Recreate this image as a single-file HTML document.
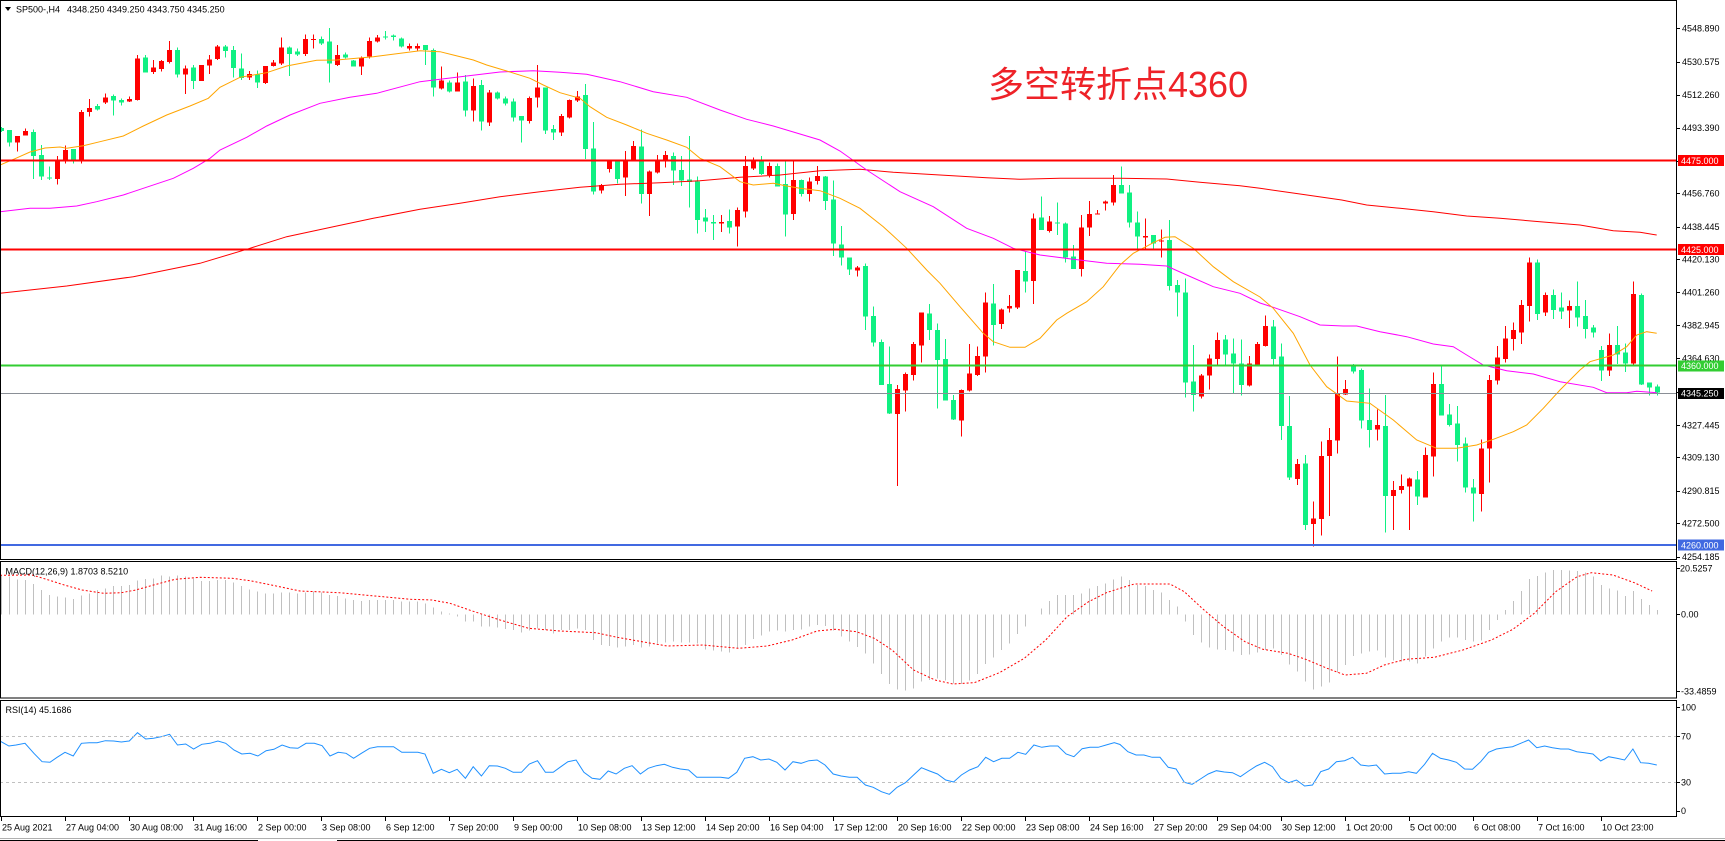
<!DOCTYPE html>
<html><head><meta charset="utf-8">
<style>
html,body{margin:0;padding:0;background:#fff;}
svg{display:block;}
text{font-family:"Liberation Sans",Arial,sans-serif;font-size:9px;fill:#000;}
</style></head><body>
<svg id="c" width="1725" height="841" viewBox="0 0 1725 841" xmlns="http://www.w3.org/2000/svg">
<rect width="1725" height="841" fill="#fff"/>
<g id="cand" shape-rendering="crispEdges"></g>
<g id="ma" fill="none" stroke-width="1"></g>
<g id="hist" shape-rendering="crispEdges"></g>
<g id="ind" fill="none"></g>
<!-- horizontal lines -->
<g shape-rendering="crispEdges">
<rect x="0" y="159.5" width="1676" height="2" fill="#ff0000"/>
<rect x="0" y="248.5" width="1676" height="2" fill="#ff0000"/>
<rect x="0" y="364.5" width="1676" height="2" fill="#32cd32"/>
<rect x="0" y="393" width="1676" height="1" fill="#8a8f96"/>
<rect x="0" y="544" width="1676" height="2" fill="#4169e1"/>
<line x1="0" y1="736.5" x2="1676" y2="736.5" stroke="#c0c0c0" stroke-dasharray="3,3"/>
<line x1="0" y1="782.5" x2="1676" y2="782.5" stroke="#c0c0c0" stroke-dasharray="3,3"/>
</g>
<!-- frames -->
<g fill="none" stroke="#000" stroke-width="1" shape-rendering="crispEdges">
<rect x="0.5" y="0.5" width="1676" height="559"/>
<rect x="0.5" y="561.5" width="1676" height="136.5"/>
<rect x="0.5" y="700.5" width="1676" height="116"/>
</g>
<g id="ticks" stroke="#000" shape-rendering="crispEdges"></g>
<line x1="0" y1="838.5" x2="1725" y2="838.5" stroke="#b0b0b0"/>
<line x1="0" y1="840.5" x2="258" y2="840.5" stroke="#000"/>
<line x1="337" y1="840.5" x2="1725" y2="840.5" stroke="#000"/>

<!-- header -->
<polygon points="5,7 11,7 8,11" fill="#000"/>
<text x="16" y="12.6">SP500-,H4</text>
<text x="67" y="12.6">4348.250 4349.250 4343.750 4345.250</text>
<text x="988" y="97" style="font-size:36px;fill:#ee2228;font-family:'Liberation Sans','Noto Sans CJK SC',sans-serif;">多空转折点4360</text>

<!-- right axis main -->
<text x="1682" y="31.6">4548.890</text>
<text x="1682" y="65">4530.575</text>
<text x="1682" y="98">4512.260</text>
<text x="1682" y="131">4493.390</text>
<text x="1682" y="196.6">4456.760</text>
<text x="1682" y="230">4438.445</text>
<text x="1682" y="262.3">4420.130</text>
<text x="1682" y="295.6">4401.260</text>
<text x="1682" y="328.3">4382.945</text>
<text x="1682" y="361.6">4364.630</text>
<text x="1682" y="428.3">4327.445</text>
<text x="1682" y="460.6">4309.130</text>
<text x="1682" y="494">4290.815</text>
<text x="1682" y="526.6">4272.500</text>
<text x="1682" y="560">4254.185</text>

<rect x="1678" y="155" width="46" height="11" fill="#ff0000"/>
<text x="1681" y="163.8" style="fill:#fff">4475.000</text>
<rect x="1678" y="244" width="46" height="11" fill="#ff0000"/>
<text x="1681" y="252.8" style="fill:#fff">4425.000</text>
<rect x="1678" y="360.5" width="46" height="11" fill="#32cd32"/>
<text x="1681" y="369.2" style="fill:#fff">4360.000</text>
<rect x="1678" y="388" width="46" height="11" fill="#000"/>
<text x="1681" y="396.7" style="fill:#fff">4345.250</text>
<rect x="1678" y="539.5" width="46" height="11" fill="#4169e1"/>
<text x="1681" y="548.3" style="fill:#fff">4260.000</text>

<!-- MACD -->
<text x="5.5" y="574.6">MACD(12,26,9) 1.8703 8.5210</text>
<text x="1680" y="571.6">20.5257</text>
<text x="1681" y="617.6">0.00</text>
<text x="1681" y="694.3">-33.4859</text>
<!-- RSI -->
<text x="5.5" y="713">RSI(14) 45.1686</text>
<text x="1681" y="710.3">100</text>
<text x="1681" y="739.3">70</text>
<text x="1681" y="785.6">30</text>
<text x="1681" y="814">0</text>

<!-- time axis -->
<text x="2" y="830.5">25 Aug 2021</text>
<text x="66" y="830.5">27 Aug 04:00</text>
<text x="130" y="830.5">30 Aug 08:00</text>
<text x="194" y="830.5">31 Aug 16:00</text>
<text x="258" y="830.5">2 Sep 00:00</text>
<text x="322" y="830.5">3 Sep 08:00</text>
<text x="386" y="830.5">6 Sep 12:00</text>
<text x="450" y="830.5">7 Sep 20:00</text>
<text x="514" y="830.5">9 Sep 00:00</text>
<text x="578" y="830.5">10 Sep 08:00</text>
<text x="642" y="830.5">13 Sep 12:00</text>
<text x="706" y="830.5">14 Sep 20:00</text>
<text x="770" y="830.5">16 Sep 04:00</text>
<text x="834" y="830.5">17 Sep 12:00</text>
<text x="898" y="830.5">20 Sep 16:00</text>
<text x="962" y="830.5">22 Sep 00:00</text>
<text x="1026" y="830.5">23 Sep 08:00</text>
<text x="1090" y="830.5">24 Sep 16:00</text>
<text x="1154" y="830.5">27 Sep 20:00</text>
<text x="1218" y="830.5">29 Sep 04:00</text>
<text x="1282" y="830.5">30 Sep 12:00</text>
<text x="1346" y="830.5">1 Oct 20:00</text>
<text x="1410" y="830.5">5 Oct 00:00</text>
<text x="1474" y="830.5">6 Oct 08:00</text>
<text x="1538" y="830.5">7 Oct 16:00</text>
<text x="1602" y="830.5">10 Oct 23:00</text>
</svg>
<script>
(function(){
var NS="http://www.w3.org/2000/svg";
function el(parent,tag,attrs){var e=document.createElementNS(NS,tag);for(var a in attrs)e.setAttribute(a,attrs[a]);parent.appendChild(e);return e;}
var C=[
[-1,'g',128,131,127,132],[0,'g',130,142.7,130,146.7],[1,'r',136,142.7,136,151.7],[2,'r',131,135.7,128.3,135.7],[3,'g',132,156,129.3,179],[4,'g',155,176.7,145,180],[5,'g',177.5,178.5,166.7,180],[6,'r',160.7,179,156,184.3],[7,'r',150,159.3,145.3,163.3],[8,'g',149,160,149,163.3],[9,'r',112,160,110,163.3],[10,'r',108,112,99,116.7],[11,'g',106,109.3,104,110.7],[12,'r',97.3,102.7,93.3,104],[13,'g',96,100.7,94.3,115.7],[14,'g',100,102.7,98.7,105.3],[15,'r',99,101.7,96.7,102],[16,'r',58.3,100,55,100.7],[17,'g',57.3,72.7,55,72.7],[18,'r',67.3,72,60,74],[19,'r',61,69,60,71.7],[20,'r',50,62,41,63.3],[21,'g',50,74.7,47.7,77.3],[22,'r',68.3,74.7,65.7,94],[23,'g',67.7,81,65,89],[24,'r',65,81,65,81],[25,'r',59.3,65.7,55,74],[26,'r',46.7,59,45,60],[27,'g',46.7,51,45,57.3],[28,'g',50,68,46,77.3],[29,'g',68.3,78,53.3,80],[30,'r',74,77.3,71,80],[31,'g',74.3,82.7,70.7,88],[32,'r',66,83,66,84],[33,'r',62.7,66,60,66.7],[34,'r',47.7,63.3,37.7,65],[35,'g',47.3,54,46.7,76],[36,'g',51.7,54.7,48.3,56],[37,'r',39,54,34.7,56],[38,'r',39,40,34.3,48.3],[39,'g',39,43.3,36.7,45],[40,'g',41.7,63.3,28,82.7],[41,'r',55,65,45,66],[42,'g',54.3,57.7,52.7,58.3],[43,'g',60.7,66.7,60,66.7],[44,'r',57.3,66.7,56.7,75],[45,'r',41,56.7,37.3,58.3],[46,'r',37.3,41.7,35,42.7],[47,'g',36.5,37.5,31,39.3],[48,'g',35.3,37,34.3,40.7],[49,'g',38.7,46.7,37.3,47.7],[50,'r',46,48.3,43.3,50.7],[51,'r',46,48.3,43.3,50.7],
[52,'g',45,50,45,65],[53,'g',50,87.7,48.3,96.7],[54,'r',80.7,88.3,66.7,89.3],[55,'g',82.3,91.7,80.7,92.7],[56,'r',82.7,91.7,72.3,91.7],[57,'g',81.7,110.7,75,116.7],[58,'r',86,110.7,78.3,121.7],[59,'g',85,121.7,80,130.7],[60,'r',92.7,122.7,90,126],[61,'g',92.7,98.7,91.7,99.3],[62,'g',98.3,103.3,96.7,105.7],[63,'g',101.7,117.7,98.3,121.7],[64,'g',116,120.7,116,142.7],[65,'r',98,121,96.7,123.3],[66,'r',87.7,97.7,65,107.7],[67,'g',87.7,130.7,87.7,134],[68,'g',129,132.7,125,140],[69,'r',116,132.7,114,136],[70,'r',100,117.3,99.3,118.3],[71,'r',96.7,100.7,91,102],[72,'g',95,149,84,159],[73,'g',148.3,191.7,122,194.7],[74,'r',185,190.7,184,193.7],[75,'r',161.7,169,160,172.3],[76,'g',160,179,160,183.3],[77,'r',160,177.7,151,196],[78,'r',146,160,141,160],[79,'g',146.7,194,129.3,203.3],[80,'r',171.7,194,170.7,216],[81,'r',160,172.3,155,173.3],[82,'r',155,160,151,167.3],[83,'g',156,170.7,152.3,185],[84,'g',170,180.7,156,186],[85,'g',179.3,182,136,207.7],[86,'g',181.7,220,176.7,233.3],[87,'g',217.7,221.7,209,232],[88,'g',222,223.3,215,240],[89,'r',222,223.7,215,232],[90,'g',221,227.7,209.3,233.3],[91,'r',210,226.7,207.7,246.7],[92,'r',166,211.7,156,217.7],[93,'r',160,168.3,157.3,170],[94,'g',160,174,156,175],[95,'r',166,175,162.7,177.3],[96,'g',166,186.7,163.3,186.7],[97,'g',184,214.7,160,236.7],[98,'r',180,214,160,220],[99,'g',180,194,179.3,196.7],[100,'r',181.7,194,177.3,201.7],[101,'r',176,181,166,184.3],[102,'g',176.7,201,176,210],[103,'g',199.3,243.3,180.7,256],
[104,'g',244.3,257.3,226,265.7],[105,'g',257.3,269.3,257.3,275],[106,'r',267.3,270.7,266,276.7],[107,'g',266,316.7,263.3,330],[108,'g',316,342.7,306.7,346.7],[109,'g',342,385,339.3,385],[110,'g',384,413.3,346.7,414],[111,'r',389,414,385,486],[112,'r',374,390.7,372.7,411.7],[113,'r',344,375,342,380.7],[114,'r',312.3,345.7,312.3,362.7],[115,'g',313.3,330,304,340],[116,'g',330,360,323.3,408.3],[117,'g',359,400.7,339,400.7],[118,'g',400,419.3,395,420],[119,'r',390,420.7,389.3,436.7],[120,'r',373.3,390.7,344,391.7],[121,'r',356,375,346.7,376],[122,'r',302.3,356.7,292.3,372.7],[123,'g',303.3,325,284,345.7],[124,'r',309.3,324,308.3,329],[125,'r',306,308.7,295,312.7],[126,'r',270,307.7,270,309],[127,'g',271,281.7,251,292.3],[128,'r',218.3,281,213.3,304],[129,'g',217.3,230,196.7,230],[130,'r',221.7,231,216,232.7],[131,'g',222.5,223.5,202.7,235],[132,'g',223.3,257.3,222.7,262.7],[133,'g',256.7,269,245,269],[134,'r',227.3,269,215,276.7],[135,'r',214,227.7,201,236],[136,'r',213.3,214.7,210,214.7],[137,'r',201.7,203.3,200.7,210.7],[138,'r',185,202.7,175,205.3],[139,'g',185,193.3,166.7,193.3],[140,'g',192.7,222.7,185,227.7],[141,'g',222.7,236.7,211.7,249.3],[142,'r',236,237.7,218.3,248.3],[143,'g',235,243.3,235,249.3],[144,'r',240.5,241.5,229.3,257.3],[145,'g',240,286,220,290.7],[146,'g',285,292.7,280,316.7],[147,'g',292.3,382.7,278.3,397.3],[148,'g',381.7,395,345,411.7],[149,'r',375.3,396.7,374,398.3],[150,'r',358.3,375.7,354.3,389.3],[151,'r',340,359,332.7,365],[152,'g',339.3,354.3,335,365],[153,'g',353.3,363.3,338.3,393.3],[154,'g',363.3,385,339.3,395.7],[155,'r',363.3,385.7,356,386.7],[156,'r',344,365,342,366],
[157,'r',326,346,315.7,346.7],[158,'g',326.7,359,320,365],[159,'g',356.7,426,343.3,440],[160,'g',426,477.3,396,480],[161,'r',464,479,459,485],[162,'g',463.3,525,455,530],[163,'r',518.3,524,501.7,546.7],[164,'r',456,519,441.7,535.7],[165,'r',440,456,428,516],[166,'r',394,440.7,356.7,453.3],[167,'r',389,394.3,380,395],[168,'g',366.7,371.7,364,373.3],[169,'g',370,420.7,368.3,428.3],[170,'g',420,430,388.3,447.7],[171,'r',425,429.3,409.3,440.7],[172,'g',426,496,395,532.7],[173,'r',490,496,481,530],[174,'r',486,490,474.3,493.3],[175,'r',478.3,486.7,477.3,530],[176,'g',479.3,496.7,471,505],[177,'r',455,497.3,447.7,497.7],[178,'r',384,456.7,372.7,476.7],[179,'g',384,415.7,365.7,415.7],[180,'g',414.3,425,404,426.7],[181,'g',423.3,445,406,461.7],[182,'g',443.3,487.7,437.3,492.7],[183,'g',487.3,493.3,479,521.7],[184,'r',448.3,494,439.3,511.7],[185,'r',380,448.3,375,482.7],[186,'r',357.3,380.7,346,384.3],[187,'r',338.3,359,326,362.7],[188,'r',330,339,322.3,350.7],[189,'r',305,332.7,300,344],[190,'r',262.3,306,257.3,321.7],[191,'g',262.3,314,259.3,320],[192,'r',295,312.7,292.7,316],[193,'g',295,310,289.3,319],[194,'g',307.7,311.7,292.7,319],[195,'r',306,310.7,300.7,328],[196,'g',306,317.7,281.7,326.7],[197,'g',316,329,300,338.7],[198,'g',327.7,332.7,325,337.7],[199,'g',350,370.7,346,381],[200,'r',345,370.7,333.3,376],[201,'g',345,354.3,326,364],[202,'g',352.7,363.3,343.3,372],[203,'r',294,363.3,281.7,365],[204,'g',295,384.3,293.3,385],[205,'g',382.7,387.7,382.7,395.7],[206,'g',386.7,392.7,384.3,395.7]
];
var G='#10f082',R='#ff0000';
var cg=document.getElementById('cand');
C.forEach(function(c){
  var cx=9+8*c[0], col=c[1]=='g'?G:R;
  el(cg,'rect',{x:cx,y:c[4],width:1,height:Math.max(1,c[5]-c[4]),fill:col});
  el(cg,'rect',{x:cx-2,y:c[2],width:5,height:Math.max(1,c[3]-c[2]),fill:col});
});
function pl(g,pts,color,extra){
  var s=pts.map(function(p){return p[0]+','+p[1];}).join(' ');
  var a={points:s,stroke:color,fill:'none','stroke-width':1};
  if(extra)for(var k in extra)a[k]=extra[k];
  el(g,'polyline',a);
}
var ma=document.getElementById('ma');
var red200=[[0,293.3],[66.7,286],[133.3,276.7],[200,263.3],[246.7,249.3],[286.7,236.7],[333.3,226.7],[373.3,218.3],[420,209.3],[460,203.3],[500,196.7],[540,191.7],[580,187.3],[620,184.3],[660,182.7],[700,180.7],[740,177.3],[780,175],[820,170.7],[840,170],[860,169.3],[893.3,172.3],[940,175],[986.7,177.7],[1020,179.3],[1060,178.3],[1120,178.3],[1166.7,179],[1200,182.3],[1240,185.7],[1260,188.3],[1300,194],[1341.7,200],[1366.7,205],[1400,208.3],[1433.3,211.7],[1466.7,216],[1500,218.3],[1540,221.7],[1580,225],[1613.3,230.7],[1640,232.3],[1656.7,235]];
var mag=[[0,211.7],[30,208.3],[50,208.3],[76.7,206],[96.7,201.7],[123.3,195],[143.3,188.3],[173.3,178.3],[193.3,168.3],[210,158.3],[220,150],[246.7,137.3],[266.7,126],[290,115],[320,103.3],[350,97.3],[376.7,93.3],[420,81.7],[440,79.3],[466.7,76],[500,72],[533.3,70.7],[560,72.3],[586.7,74.3],[620,81.7],[653.3,91.7],[686.7,97.3],[720,110],[746.7,119.3],[773.3,126],[800,134],[820,140],[840,151],[866.7,170],[900,191.7],[933.3,206.7],[966.7,228.3],[993.3,238.3],[1013.3,248.3],[1040,255],[1073.3,259.3],[1106.7,263.3],[1140,264.3],[1166.7,266],[1186.7,275],[1213.3,286.7],[1240,293.3],[1260,303],[1273.3,307.3],[1300,316.7],[1320,325],[1343.3,326],[1356.7,326],[1380,331.7],[1406.7,336.7],[1433.3,344],[1453.3,346.7],[1466.7,355],[1483.3,365],[1506.7,370.7],[1533.3,374],[1560,381.7],[1593.3,387.3],[1606.7,392.7],[1626.7,392.7],[1636.7,391.3],[1656.7,392.7]];
var org=[[0,165],[15,158.7],[30,152],[45,148],[60,147],[66.7,148.3],[83.3,145.7],[100,141.7],[123.3,136],[143.3,126],[166.7,115],[190,106],[208.3,98.3],[220,87.3],[240,77.3],[266.7,72.7],[286.7,66],[316.7,60.3],[336.7,60],[373.3,56.7],[420,50.7],[440,51.7],[453.3,55],[473.3,60],[486.7,65],[506.7,71],[530,78.3],[543.3,85],[560,92.7],[580,98.3],[590,106.7],[606.7,117.3],[626.7,125],[646.7,133.3],[666.7,140],[686.7,147.3],[700,158.3],[720,166.7],[740,181.7],[753.3,185],[773.3,183.3],[786.7,186],[800,188.3],[820,190.7],[840,198.3],[860,208.3],[883.3,226.7],[906.7,248.3],[926.7,270],[940,283.3],[960,306.7],[983.3,333.3],[993.3,341.7],[1010,347.3],[1025,347.3],[1040,338.3],[1056.7,320],[1066.7,313.3],[1086.7,301.7],[1103.3,286.7],[1120,265],[1133.3,253.3],[1153.3,242.7],[1165,237.3],[1175,236.7],[1193.3,248.3],[1213.3,266.7],[1233.3,281.7],[1260,297],[1273.3,308.3],[1293.3,333.3],[1310,365],[1326.7,386.7],[1346.7,401],[1370,403.3],[1393.3,420],[1416.7,440],[1436.7,448.3],[1456.7,448.3],[1476.7,445],[1493.3,439.3],[1513.3,431.7],[1526.7,425],[1543.3,408.3],[1560,390],[1580,370],[1590,361.7],[1613.3,355],[1626.7,346.7],[1636.7,335],[1646.7,331.7],[1656.7,333.3]];
pl(ma,red200,'#ff0000');
pl(ma,mag,'#ff00ff');
pl(ma,org,'#ffa500');
// histogram
var H1=[575,576.7,579.3,580,584,590,595,596.7,597.7,599,595.7,593.3,590,588.3,586,586,585,580.7,579,578.3,575.7,576.7,575.7,576.7,578.3,581,581,580,580,582.7,586,589.3,591.7,593.3,593.3,592.7,592.7,593.3,592.7,591.7,592.3,595,596,598.3,600,601,600,600,600,600,601.7,601.7,601.7,603.3,607.7,611.7,613.3,616.7,621.7,621.7,626.7,626.7,627.7,629,630,632.3,630.7,628.3,630,633.3,
630,630,628.3,630,640,645,646,647.3,646.7,645,647.3,646.7,643.3,642.7,641.7,642.7,642.7,643.3,649.3,650.7,651.7,652.7,648.3,645,639,635.7,631.7,630.7,631.7,630,629.3,626.7,625,626,630.7,636.7,641.7,647,653.3,663.3,674,684,689.3,690.7,688.3,681.7,680,678.3,680.7,683.3,684,680.7,674,664,657.3,650,643.3,634,626.7,614.3,608.3,601,595,595,595,593.3,588.3,586,583.3,579.3,
576.7,580,585,586,590,592.7,600,606.7,621.7,635,642.7,647.3,649.3,650,651.7,655,654.3,652.7,650,648.3,655,664.3,671.7,681.7,689.3,686.7,682.7,672.7,665,656,653.3,651.7,650.7,657.3,660.7,661.7,661.7,663.3,656.7,648.3,641.7,637.3,637.3,640,641.7,640.7,630,620,610,601,591,579,576,572.3,570,570,570.7,571,572.7,576.7,585,588.3,590.7,596,591,599,605,610];
var hg=document.getElementById('hist');
var Z=614.3;
H1.forEach(function(v,i){
  var k=i-1, x=9+8*k;
  var t=Math.min(v,Z), b=Math.max(v,Z);
  if(b-t<0.8) return;
  el(hg,'rect',{x:x,y:t,width:1,height:b-t,fill:'#c0c0c0'});
});
var ind=document.getElementById('ind');
var sig=[[0,575.3],[32.1,575],[46.4,579.3],[64.3,585],[82.1,590],[103.6,593.3],[121.4,592.7],[135.7,590],[153.6,585],[175,579.3],[200,577.3],[232.1,578.3],[250,580.7],[271.4,585],[300,591],[339.3,592.7],[375,596],[410.7,599.3],[432.1,600],[450,603.3],[471.4,610.7],[500,620],[528.6,628.3],[560,631],[595.7,632.7],[617.1,637.3],[642.1,641.7],[667.1,646],[702.9,645],[738.6,648.3],[767.1,646],[792.1,640],[817.1,631],[835,629.3],[856.4,631.7],[874.3,638.3],[892.1,650],[913.6,670],[935,680],[952.9,684],[974.3,682.7],[999.3,672.7],[1024.3,658.3],[1045.7,640],[1067.1,616.7],[1088.6,601.7],[1106.4,592.7],[1120,588.3],[1134.3,584],[1170,584],[1184.3,591.7],[1202.1,608.3],[1223.6,626.7],[1245,641.7],[1262.9,649.3],[1287.9,653.3],[1305.7,659.3],[1327.1,668.3],[1345,675],[1366.4,673.3],[1384.3,665],[1405.7,659.3],[1434.3,657.3],[1462.9,650],[1491.4,640],[1512.9,629.3],[1534.3,613.3],[1555.7,591.7],[1577.1,576.7],[1591.4,572.7],[1612.9,575],[1634.3,582.7],[1652.1,591]];
pl(ind,sig,'#ff0000',{'stroke-dasharray':'2,2'});
var rsi=[[0,741],[8.9,746],[16.1,745],[25,743.3],[33.9,753.3],[42.1,761.7],[50,762.3],[57.1,757.3],[65,752.3],[73.2,756],[81.4,743.3],[89.3,742.7],[97.1,742.7],[105.4,740.7],[113.6,741],[121.4,742],[129.3,741],[137.5,732.7],[145.7,739],[153.6,738.3],[161.4,736.7],[169.6,734.3],[177.5,745],[185.7,744],[193.6,749],[201.8,744.3],[210,743.3],[217.9,741],[225.7,743.3],[233.9,750],[241.8,754],[250,753.3],[257.9,756],[266.1,750.7],[273.9,749.3],[282.1,745],[290,747.7],[297.9,748.3],[306.1,743.3],[314.3,743.3],[322.1,745.7],[330,756],[338.2,752.3],[346.1,753.3],[353.6,758.3],[361.4,753.3],[369.6,748.3],[377.5,746.7],[385.7,746.7],[393.6,746.7],[401.8,752.3],[409.6,752.3],[417.9,752.3],[425,754],[433.2,773.3],[441.4,769.3],[449.3,772.7],[457.1,769.3],[465.4,778.3],[473.2,766.7],[481.4,776],[489.3,765.7],[497.5,766],[505.4,768.3],[513.2,772.3],[521.4,772.3],[529.3,764],[537.5,760.7],[545.4,772.3],[553.2,772.3],[560,767.3],
[567.9,761.7],[576.1,760],[583.9,772.3],[592.1,778.3],[600,779.3],[608.2,771],[616.1,774],[624.3,768.3],[632.1,765.7],[640.4,774],[648.2,768.3],[656.4,765.7],[664.3,764.3],[672.5,767.3],[680.4,769],[688.6,770],[696.8,777.3],[704.6,777.3],[712.9,777.3],[720.7,777.3],[728.6,778.3],[736.8,772.3],[744.6,758.3],[752.9,756.7],[760.7,760],[768.9,759],[776.8,762.3],[785,770],[792.9,761.7],[801.1,763.3],[808.9,760.7],[817.1,760],[825,765],[833.2,774],[841.1,776],[849.3,777.3],[857.1,777.3],[865.4,785],[873.2,787.3],[881.4,791.7],[889.3,794.3],[897.1,787.3],[905.4,782.7],[913.6,775],[921.4,767.7],[929.6,771],[937.5,774],[945.7,780],[953.6,782],[961.4,775],[969.6,770],[977.9,766.7],[985.7,757.3],[993.6,761.7],[1001.8,758.3],[1009.6,758.3],[1017.9,752.3],[1025.7,754.3],[1033.9,745],[1041.8,747.3],[1050,746],[1057.9,746],[1066.1,754],[1073.9,756.7],[1082.1,748.7],[1090,747.3],[1098.2,747.3],[1106.1,745],[1114.3,742.7],[1120,744.5],
[1127.9,751.7],[1136.1,755],[1143.9,755],[1152.1,757.3],[1160,757.3],[1168.2,767.3],[1176.1,769],[1184.3,782.3],[1192.1,784.3],[1200.4,779],[1208.2,774],[1216.4,770.7],[1224.3,772],[1232.5,772.7],[1240.4,776.7],[1248.6,771],[1256.4,766],[1264.6,762.3],[1272.5,766.7],[1280.7,778.3],[1288.6,782.7],[1296.4,780],[1304.6,786],[1312.5,785],[1320.7,771.7],[1328.6,769],[1336.4,761.7],[1344.6,760.7],[1352.5,757.3],[1360.7,765],[1368.6,766],[1376.4,765],[1384.6,774],[1392.5,773.3],[1400.7,773.3],[1408.6,771.7],[1416.4,773.3],[1424.6,764.3],[1432.5,753.3],[1440.4,758.3],[1448.6,760],[1456.4,762.3],[1464.6,769],[1472.5,769.3],[1480.7,761.7],[1488.6,752.3],[1496.4,749],[1504.6,747.7],[1512.5,746.7],[1520.7,743.3],[1528.6,740],[1536.8,747.7],[1544.6,746],[1552.5,747.7],[1560.7,749],[1568.6,749],[1576.8,751.7],[1584.6,752.7],[1592.9,754],[1600.7,761],[1608.6,756.7],[1616.8,758.3],[1624.6,760],[1632.9,749],[1640.7,762.7],[1648.6,763.3],[1656.8,765]];
pl(ind,rsi,'#1e90ff');
// ticks
var tg=document.getElementById('ticks');
[28.3,61.7,94.7,127.7,160.5,193.3,226.7,259,292.3,325,358.3,391.6,425,457.3,490.7,523.3,556.7,568.3,614.3,691,707,736.3,782.3,810.7].forEach(function(y){
  var yy=Math.round(y)+0.5; el(tg,'line',{x1:1676,y1:yy,x2:1680,y2:yy});
});
for(var i=0;i<26;i++){var x=1+64*i+0.5; el(tg,'line',{x1:x,y1:817,x2:x,y2:821});}
})();
</script>
</body></html>
